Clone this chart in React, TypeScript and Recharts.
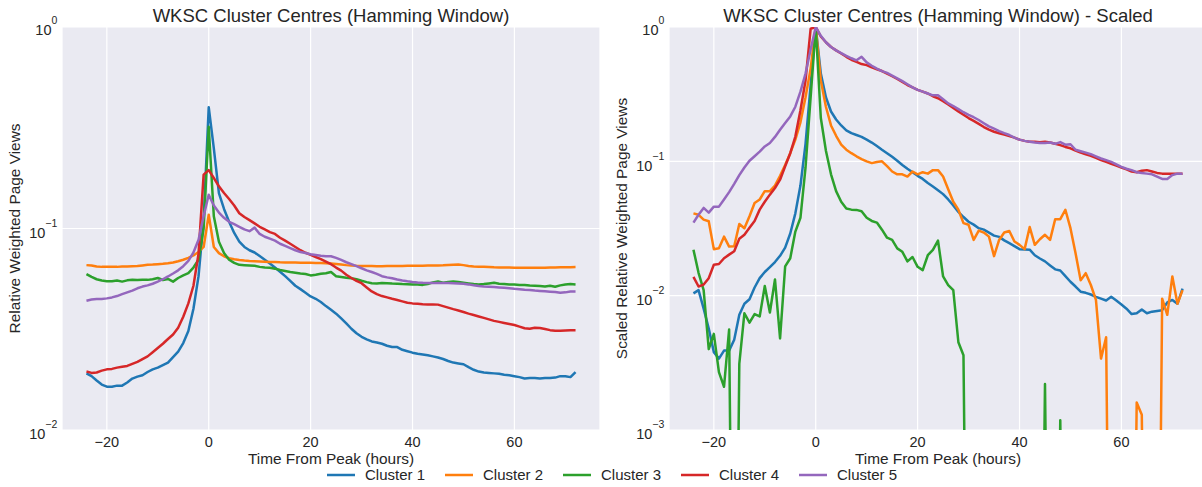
import React from 'react';
import { LineChart, Line, XAxis, YAxis, CartesianGrid } from 'recharts';

// hours relative to the peak, one sample per hour
const HOURS = Array.from({ length: 97 }, (_, i) => i - 24);

const CLUSTERS = ['Cluster 1', 'Cluster 2', 'Cluster 3', 'Cluster 4', 'Cluster 5'];
const COLORS = ['#1f77b4', '#ff7f0e', '#2ca02c', '#d62728', '#9467bd'];

// stand-in for samples that fall to zero (they drop off the bottom of a log axis)
const BELOW = 1e-6;
const B = BELOW;

// relative weighted page views per cluster
const rel1 = [
  0.0191, 0.0185, 0.0176, 0.0168, 0.0164, 0.0164, 0.0166, 0.0166, 0.0172, 0.018, 0.0184, 0.0187, 0.0194, 0.02, 0.0204, 0.021, 0.0216, 0.023, 0.0245, 0.027, 0.031, 0.04, 0.058, 0.11,
  0.4,
  0.25, 0.15, 0.125, 0.108, 0.095, 0.086, 0.081, 0.078, 0.076, 0.073, 0.07, 0.067, 0.064, 0.061, 0.058, 0.055, 0.052, 0.05, 0.048, 0.046, 0.0448, 0.0432, 0.0412, 0.0395,
  0.0378, 0.0358, 0.0338, 0.0318, 0.0302, 0.029, 0.0282, 0.0275, 0.0272, 0.0268, 0.0262, 0.0258, 0.0258, 0.025, 0.0246, 0.0242, 0.0239, 0.0237, 0.0235, 0.0232, 0.0229, 0.0225, 0.022, 0.0216,
  0.0214, 0.0212, 0.0205, 0.0199, 0.0195, 0.0193, 0.0192, 0.0191, 0.019, 0.0188, 0.0187, 0.0185, 0.0183, 0.018, 0.0181, 0.0181, 0.018, 0.0181, 0.0181, 0.0182, 0.0185, 0.0185, 0.0183, 0.0194,
];
const rel2 = [
  0.0658, 0.0655, 0.0648, 0.0645, 0.0645, 0.0646, 0.0645, 0.0647, 0.0648, 0.065, 0.0652, 0.0656, 0.066, 0.0662, 0.0665, 0.0668, 0.0672, 0.0678, 0.0688, 0.07, 0.0715, 0.0735, 0.0765, 0.081,
  0.117,
  0.081, 0.0755, 0.0728, 0.0712, 0.0703, 0.0697, 0.0693, 0.069, 0.0688, 0.0686, 0.0684, 0.0682, 0.0682, 0.068, 0.0679, 0.0678, 0.0678, 0.0677, 0.0676, 0.0676, 0.0675, 0.0674, 0.0673, 0.067,
  0.0666, 0.0662, 0.0658, 0.0655, 0.0653, 0.0652, 0.0652, 0.0651, 0.065, 0.065, 0.0651, 0.0652, 0.0652, 0.0652, 0.0653, 0.0653, 0.0653, 0.0654, 0.0655, 0.0655, 0.0656, 0.0657, 0.0659, 0.0661,
  0.0662, 0.0658, 0.0652, 0.0648, 0.0646, 0.0645, 0.0644, 0.0642, 0.0641, 0.064, 0.064, 0.0639, 0.0639, 0.0638, 0.0638, 0.0639, 0.0638, 0.0639, 0.064, 0.0641, 0.0642, 0.0642, 0.0643, 0.0644,
];
const rel3 = [
  0.0594, 0.0575, 0.056, 0.0552, 0.0548, 0.0548, 0.0552, 0.0545, 0.0553, 0.0556, 0.0555, 0.0557, 0.0556, 0.056, 0.0568, 0.0555, 0.0562, 0.0545, 0.0568, 0.0585, 0.06, 0.064, 0.07, 0.1,
  0.32,
  0.115, 0.086, 0.0755, 0.07, 0.0675, 0.066, 0.0658, 0.0656, 0.0654, 0.0645, 0.064, 0.0638, 0.0632, 0.0622, 0.0615, 0.0608, 0.0603, 0.0598, 0.0595, 0.0585, 0.059, 0.0596, 0.06, 0.0608,
  0.058, 0.0575, 0.057, 0.0566, 0.056, 0.055, 0.0542, 0.0535, 0.0533, 0.0536, 0.0535, 0.0533, 0.0532, 0.053, 0.0529, 0.0528, 0.0527, 0.0525, 0.053, 0.054, 0.0546, 0.0538, 0.0542, 0.0545,
  0.0542, 0.0538, 0.0534, 0.053, 0.0528, 0.053, 0.0534, 0.0538, 0.0532, 0.053, 0.0528, 0.0527, 0.0525, 0.0525, 0.0522, 0.052, 0.0518, 0.0516, 0.052, 0.0514, 0.0522, 0.0527, 0.053, 0.0528,
];
const rel4 = [
  0.0195, 0.0192, 0.0193, 0.0197, 0.02, 0.0201, 0.0204, 0.0206, 0.0208, 0.0213, 0.0218, 0.0225, 0.0232, 0.0243, 0.0255, 0.0268, 0.0283, 0.0298, 0.0322, 0.0365, 0.0425, 0.052, 0.075, 0.185,
  0.195,
  0.178, 0.162, 0.15, 0.14, 0.13, 0.119, 0.114, 0.11, 0.106, 0.102, 0.099, 0.096, 0.094, 0.09, 0.087, 0.084, 0.081, 0.078, 0.0758, 0.074, 0.0722, 0.0705, 0.0685, 0.0665,
  0.064, 0.0618, 0.059, 0.0568, 0.055, 0.0535, 0.051, 0.0487, 0.0472, 0.0462, 0.0455, 0.0448, 0.0442, 0.0435, 0.0428, 0.0425, 0.0423, 0.0421, 0.042, 0.042, 0.0419, 0.0412, 0.0405, 0.0398,
  0.0392, 0.0385, 0.0378, 0.0372, 0.0366, 0.036, 0.0354, 0.0348, 0.0344, 0.034, 0.0336, 0.0332, 0.0326, 0.032, 0.0318, 0.0322, 0.0321, 0.0317, 0.0313, 0.0311, 0.0311, 0.0312, 0.0313, 0.0313,
];
const rel5 = [
  0.0438, 0.0444, 0.0447, 0.0447, 0.045, 0.0455, 0.0462, 0.0472, 0.0482, 0.0492, 0.0505, 0.0515, 0.0522, 0.0532, 0.0545, 0.056, 0.0578, 0.0598, 0.062, 0.065, 0.069, 0.076, 0.088, 0.115,
  0.147,
  0.13, 0.12, 0.113, 0.108, 0.105, 0.102, 0.099, 0.097, 0.101, 0.094, 0.091, 0.089, 0.087, 0.084, 0.082, 0.08, 0.078, 0.0765, 0.0755, 0.0745, 0.0738, 0.0732, 0.0728, 0.0728,
  0.0715, 0.0698, 0.068, 0.0665, 0.065, 0.0635, 0.062, 0.0608, 0.0595, 0.058, 0.0572, 0.0566, 0.0558, 0.0552, 0.0547, 0.0543, 0.054, 0.0538, 0.0537, 0.0537, 0.0537, 0.0536, 0.0536, 0.0535,
  0.0534, 0.0532, 0.0528, 0.0523, 0.0519, 0.0516, 0.0514, 0.0512, 0.051, 0.0508, 0.0505, 0.0502, 0.05, 0.0497, 0.0495, 0.0492, 0.049, 0.0488, 0.0486, 0.0484, 0.048, 0.0482, 0.0487, 0.0487,
];

// the same centres rescaled so each peak sits at 1
const sc1 = [
  0.0104, 0.011, 0.008, 0.0057, 0.0038, 0.0034, 0.0039, 0.0039, 0.0047, 0.0072, 0.0087, 0.0094, 0.0115, 0.0135, 0.015, 0.0163, 0.0178, 0.0198, 0.0228, 0.029, 0.041, 0.066, 0.135, 0.37,
  1.0,
  0.45, 0.3, 0.235, 0.205, 0.185, 0.17, 0.162, 0.157, 0.152, 0.145, 0.138, 0.13, 0.122, 0.115, 0.108, 0.101, 0.094, 0.088, 0.083, 0.078, 0.074, 0.069, 0.065, 0.061,
  0.057, 0.052, 0.047, 0.042, 0.0385, 0.0355, 0.0338, 0.0318, 0.031, 0.0295, 0.028, 0.0274, 0.0258, 0.0246, 0.0234, 0.0222, 0.0221, 0.022, 0.02, 0.0189, 0.018, 0.0168, 0.0157, 0.0154,
  0.014, 0.0127, 0.0117, 0.0107, 0.0105, 0.0102, 0.0098, 0.0095, 0.0092, 0.0098, 0.0092, 0.0086, 0.008, 0.0073, 0.0074, 0.0079, 0.0074, 0.0076, 0.0077, 0.0078, 0.0089, 0.0093, 0.0087, 0.0113,
];
const sc2 = [
  0.041, 0.04, 0.0368, 0.0358, 0.0222, 0.0225, 0.0275, 0.0232, 0.0233, 0.0342, 0.0318, 0.039, 0.049, 0.052, 0.06, 0.06, 0.066, 0.078, 0.094, 0.115, 0.145, 0.195, 0.3, 0.49,
  1.0,
  0.4, 0.255, 0.185, 0.155, 0.133, 0.122, 0.115, 0.109, 0.104, 0.1, 0.097, 0.099, 0.1, 0.092, 0.084, 0.08, 0.08, 0.077, 0.084, 0.08, 0.083, 0.081, 0.086, 0.086,
  0.077, 0.062, 0.05, 0.0436, 0.0347, 0.0337, 0.026, 0.0305, 0.0295, 0.0275, 0.0197, 0.026, 0.0295, 0.0303, 0.0253, 0.0239, 0.0222, 0.0324, 0.0239, 0.0263, 0.0284, 0.026, 0.0371, 0.0371,
  0.0436, 0.0318, 0.0207, 0.013, 0.0147, 0.012, 0.0093, 0.0034, 0.0049, B, B, B, B, B, 0.0016, 0.0013, B, B, B, 0.0095, 0.0072, 0.0139, 0.0087, 0.011,
];
const sc3 = [
  0.022, 0.0148, 0.011, 0.004, 0.0052, 0.0027, 0.0021, 0.0056, B, 0.0031, 0.0074, 0.0063, 0.0073, 0.007, 0.0118, 0.0075, 0.0132, 0.0048, 0.0165, 0.019, 0.03, 0.038, 0.09, 0.3,
  1.0,
  0.21, 0.12, 0.08, 0.06, 0.05, 0.0445, 0.0437, 0.0435, 0.0425, 0.038, 0.036, 0.035, 0.031, 0.027, 0.026, 0.0225, 0.0212, 0.018, 0.0194, 0.0164, 0.0155, 0.02, 0.0219, 0.0257,
  0.0139, 0.012, 0.011, 0.0045, 0.0036, B, B, B, B, B, B, B, B, B, B, B, B, B, B, B, 0.0022, B, B, 0.00118,
  B, B, B, B, B, B, B, B, B, B, B, B, B, B, B, B, B, B, B, B, B, B, B, B,
];
const sc4 = [
  0.0138, 0.0117, 0.0121, 0.0135, 0.017, 0.0172, 0.019, 0.0202, 0.0214, 0.0265, 0.0284, 0.032, 0.036, 0.0437, 0.05, 0.0565, 0.0633, 0.073, 0.092, 0.115, 0.153, 0.24, 0.4, 0.97,
  1.0,
  0.85, 0.77, 0.71, 0.67, 0.635, 0.6, 0.57, 0.55, 0.53, 0.52, 0.5, 0.485, 0.47, 0.45, 0.43, 0.41, 0.39, 0.37, 0.355, 0.34, 0.33, 0.32, 0.305, 0.295,
  0.28, 0.265, 0.25, 0.235, 0.222, 0.21, 0.2, 0.19, 0.18, 0.172, 0.166, 0.162, 0.158, 0.154, 0.15, 0.145, 0.142, 0.14, 0.14, 0.139, 0.14, 0.138, 0.135, 0.132,
  0.128, 0.125, 0.12, 0.116, 0.113, 0.11, 0.106, 0.102, 0.099, 0.096, 0.093, 0.09, 0.087, 0.084, 0.083, 0.085, 0.086, 0.084, 0.082, 0.081, 0.081, 0.081, 0.081, 0.081,
];
const sc5 = [
  0.035, 0.04, 0.045, 0.0415, 0.046, 0.046, 0.052, 0.059, 0.068, 0.079, 0.09, 0.101, 0.109, 0.118, 0.129, 0.137, 0.152, 0.172, 0.193, 0.216, 0.255, 0.33, 0.45, 0.68,
  1.0,
  0.86, 0.77, 0.71, 0.67, 0.64, 0.61, 0.585, 0.565, 0.6, 0.545, 0.515, 0.49, 0.47, 0.455, 0.435, 0.415, 0.395, 0.375, 0.355, 0.34, 0.33, 0.32, 0.31, 0.31,
  0.29, 0.27, 0.258, 0.245, 0.232, 0.222, 0.213, 0.203, 0.192, 0.182, 0.175, 0.168, 0.162, 0.157, 0.15, 0.145, 0.142, 0.14, 0.138, 0.137, 0.137, 0.138, 0.135, 0.139,
  0.133, 0.134, 0.122, 0.119, 0.116, 0.113, 0.109, 0.105, 0.102, 0.099, 0.095, 0.091, 0.088, 0.086, 0.083, 0.082, 0.081, 0.08, 0.077, 0.074, 0.074, 0.079, 0.081, 0.081,
];

const X_TICKS = [-20, 0, 20, 40, 60];
const X_DOMAIN: [number, number] = [-28.8, 76.8];

const KEYS = ['c1', 'c2', 'c3', 'c4', 'c5'];

const toRows = (cols: number[][]) =>
  HOURS.map((h, i) => {
    const row: Record<string, number> = { h };
    cols.forEach((col, k) => { row[KEYS[k]] = col[i]; });
    return row;
  });

const rawRows = toRows([rel1, rel2, rel3, rel4, rel5]);
const scaledRows = toRows([sc1, sc2, sc3, sc4, sc5]);

const FONT = "'Liberation Sans', Arial, sans-serif";
const INK = '#262626';

const fmtNum = (v: number) => (v < 0 ? '\u2212' + Math.abs(v) : String(v));

function XTick({ x, y, payload }: any) {
  return (
    <text x={x} y={y + 16.7} textAnchor="middle" fill={INK} fontSize={14.5} fontFamily={FONT}>
      {fmtNum(payload.value)}
    </text>
  );
}

// "10" with a superscript exponent, like mathtext log labels
function LogTick({ x, y, payload }: any) {
  const exp = Math.round(Math.log10(payload.value));
  const sup = exp === 0 ? '0' : '\u2212' + Math.abs(exp);
  return (
    <text x={x - 4.7} y={y + (exp === 0 ? 8.4 : 9.4)} textAnchor="end" fill={INK} fontSize={14.5} fontFamily={FONT}>
      <tspan>10</tspan>
      <tspan dy={-11} fontSize={10.5}>{sup}</tspan>
    </text>
  );
}

interface PanelProps {
  data: Record<string, number>[];
  yDomain: [number, number];
  yTicks: number[];
  left: number;
}

function Panel({ data, yDomain, yTicks, left }: PanelProps) {
  return (
    <div style={{ position: 'absolute', left, top: 0 }}>
      <LineChart width={600} height={487} data={data} margin={{ top: 27, right: 0, bottom: 0, left: 0 }}>
        <CartesianGrid fill="#EAEAF2" stroke="#FFFFFF" strokeWidth={1.2} />
        <XAxis
          dataKey="h"
          type="number"
          domain={X_DOMAIN}
          ticks={X_TICKS}
          interval={0}
          allowDataOverflow
          height={57}
          axisLine={false}
          tickLine={false}
          tickSize={0}
          tickMargin={0}
          tick={<XTick />}
        />
        <YAxis
          type="number"
          scale="log"
          domain={yDomain}
          ticks={yTicks}
          interval={0}
          allowDataOverflow
          width={62}
          axisLine={false}
          tickLine={false}
          tickSize={0}
          tickMargin={0}
          tick={<LogTick />}
        />
        {KEYS.map((k, i) => (
          <Line
            key={k}
            type="linear"
            dataKey={k}
            stroke={COLORS[i]}
            strokeWidth={2.5}
            strokeLinejoin="round"
            dot={false}
            activeDot={false}
            isAnimationActive={false}
          />
        ))}
      </LineChart>
    </div>
  );
}

export default function App() {
  return (
    <div style={{ position: 'absolute', left: 0, top: 0, width: 1202, height: 487, overflow: 'hidden', background: '#fff' }}>
      <Panel data={rawRows} yDomain={[0.01, 1]} yTicks={[1, 0.1, 0.01]} left={0} />
      <Panel data={scaledRows} yDomain={[0.001, 1]} yTicks={[1, 0.1, 0.01, 0.001]} left={607} />
      <svg width={1202} height={487} style={{ position: 'absolute', left: 0, top: 0, pointerEvents: 'none' }} fontFamily={FONT} fill={INK}>
        <text x={331} y={22} textAnchor="middle" fontSize={18.5}>WKSC Cluster Centres (Hamming Window)</text>
        <text x={938} y={22} textAnchor="middle" fontSize={18.5}>WKSC Cluster Centres (Hamming Window) - Scaled</text>
        <text x={331} y={464} textAnchor="middle" fontSize={15.4}>Time From Peak (hours)</text>
        <text x={938} y={464} textAnchor="middle" fontSize={15.4}>Time From Peak (hours)</text>
        <text x={20} y={228.5} textAnchor="middle" fontSize={15.4} transform="rotate(-90 20 228.5)">Relative Weighted Page Views</text>
        <text x={627} y={228.5} textAnchor="middle" fontSize={15.4} transform="rotate(-90 627 228.5)">Scaled Relative Weighted Page Views</text>
        {CLUSTERS.map((name, i) => (
          <g key={name}>
            <line x1={327 + i * 118} x2={355 + i * 118} y1={475} y2={475} stroke={COLORS[i]} strokeWidth={2.5} />
            <text x={365 + i * 118} y={480} fontSize={15}>{name}</text>
          </g>
        ))}
      </svg>
    </div>
  );
}
